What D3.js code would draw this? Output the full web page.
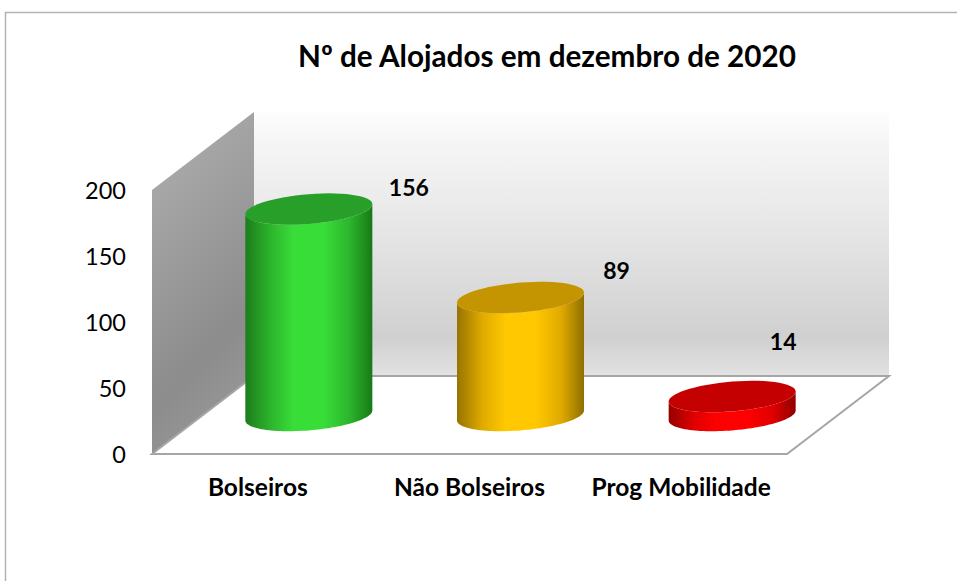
<!DOCTYPE html>
<html><head><meta charset="utf-8">
<script src="https://cdn.jsdelivr.net/npm/d3@7"></script>
<style>html,body{margin:0;background:#fff}svg{display:block}text{font-family:Lato,"Open Sans",sans-serif;fill:#000}</style>
</head><body><div id="c"></div>
<script>
const categories = ["Bolseiros","Não Bolseiros","Prog Mobilidade"];
const values = [156,89,14];
const yTicks = [0,50,100,150,200];
const titleText = "Nº de Alojados em dezembro de 2020";
const sideStops = [["#1c7d1c","#2db52d","#38dd38","#38dd38","#2db52d","#157a15"],["#967400","#e0aa00","#ffc800","#ffc800","#e0aa00","#8f6f00"],["#960000","#e00000","#ff0000","#ff0000","#e00000","#8f0000"]];
const topColors = ["#289f28","#c49500","#c40000"];

const W=957,H=581;
const svg=d3.select("#c").append("svg").attr("width",W).attr("height",H);
const defs=svg.append("defs");
const y=d3.scaleLinear().domain([0,200]).range([454,190]);
const x=d3.scaleBand().domain(categories).range([152,787]).padding(0);
const dx=102,dy=-78; // wall depth
const cylDx=51,cylDy=-39; // cylinder depth
const a=63.5,sl=5,bb=14.9;

// frame
svg.append("path").attr("d",`M5.5,${H}V12.5H${W}`).attr("fill","none").attr("stroke","#b3b3b3").attr("stroke-width",1.5);

// back wall
const gw=defs.append("linearGradient").attr("id","gw").attr("x1",0).attr("x2",0).attr("y1",0).attr("y2",1);
[[0,"#fdfdfd"],[.1,"#f6f6f6"],[.45,"#e6e6e6"],[.85,"#d0d0d0"],[1,"#e2e2e2"]].forEach(s=>gw.append("stop").attr("offset",s[0]).attr("stop-color",s[1]));
svg.append("rect").attr("x",x.range()[0]+dx).attr("width",x.range()[1]-x.range()[0])
 .attr("y",y(200)+dy).attr("height",y(0)-y(200)).attr("fill","url(#gw)");
// left wall
const gl=defs.append("linearGradient").attr("id","gl").attr("x1",0.2).attr("x2",0.5).attr("y1",0).attr("y2",1);
[[0,"#aeaeae"],[.75,"#8c8c8c"],[1,"#989898"]].forEach(s=>gl.append("stop").attr("offset",s[0]).attr("stop-color",s[1]));
const L=x.range()[0],R=x.range()[1];
svg.append("path").attr("d",d3.line()([[L,y(200)],[L+dx,y(200)+dy],[L+dx,y(0)+dy],[L,y(0)]])+"Z").attr("fill","url(#gl)");
// floor outline
svg.append("path").attr("d",d3.line()([[L,y(0)],[R,y(0)],[R+dx,y(0)+dy],[L+dx,y(0)+dy]])+"Z").attr("fill","#fff").attr("stroke","#a6a6a6").attr("stroke-width",2);

// cylinders
const pt=(cx,cy,t)=>[cx+a*Math.cos(t),cy-sl*Math.cos(t)+bb*Math.sin(t)];
const ring=(cx,cy,t0,t1)=>d3.range(0,61).map(i=>pt(cx,cy,t0+(t1-t0)*i/60));
categories.forEach((c,i)=>{
  const cx=x(c)+cylDx+x.bandwidth()/2, base=y(0)+cylDy+0.5, top=y(values[i])+cylDy;
  const g=defs.append("linearGradient").attr("id","s"+i);
  sideStops[i].forEach((col,k)=>g.append("stop").attr("offset",[0,.2,.38,.62,.82,1][k]).attr("stop-color",col));
  const side=[...ring(cx,top,Math.PI,0),...ring(cx,base,0,Math.PI)];
  svg.append("path").attr("d",d3.line()(side)+"Z").attr("fill",`url(#s${i})`);
  svg.append("path").attr("d",d3.line()(ring(cx,top,0,2*Math.PI))+"Z").attr("fill",topColors[i]);
  svg.append("text").attr("x",cx+[100,96,51][i]).attr("y",top+[-13,-19,-47][i])
    .attr("text-anchor","middle").attr("font-weight",700).attr("font-size",23).text(values[i]);
  svg.append("text").attr("x",x(c)+x.bandwidth()/2).attr("y",y(0)+42)
    .attr("text-anchor","middle").attr("font-weight",700).attr("font-size",24.5).text(c);
});

// axis
yTicks.forEach(t=>svg.append("text").attr("x",126).attr("y",y(t)+9).attr("text-anchor","end").attr("font-size",23.5).text(t));
svg.append("text").attr("x",547).attr("y",67).attr("text-anchor","middle").attr("font-weight",700).attr("font-size",29.7).text(titleText);
</script></body></html>
